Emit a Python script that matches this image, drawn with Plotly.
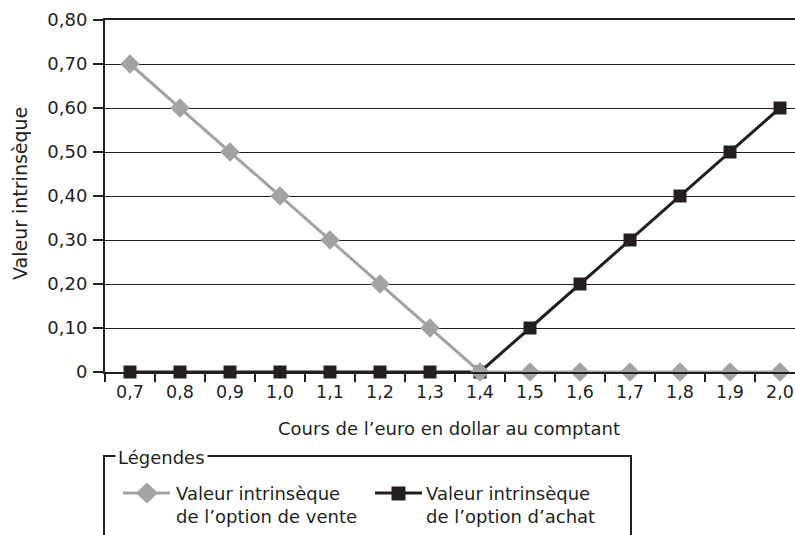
import plotly.graph_objects as go

cours = ["0,7", "0,8", "0,9", "1,0", "1,1", "1,2", "1,3", "1,4", "1,5", "1,6", "1,7", "1,8", "1,9", "2,0"]
valeur_vente = [0.70, 0.60, 0.50, 0.40, 0.30, 0.20, 0.10, 0, 0, 0, 0, 0, 0, 0]
valeur_achat = [0, 0, 0, 0, 0, 0, 0, 0, 0.10, 0.20, 0.30, 0.40, 0.50, 0.60]
y_ticks = [0, 0.1, 0.2, 0.3, 0.4, 0.5, 0.6, 0.7, 0.8]
y_labels = ["0", "0,10", "0,20", "0,30", "0,40", "0,50", "0,60", "0,70", "0,80"]
nom_vente = "Valeur intrinsèque<br>de l’option de vente"
nom_achat = "Valeur intrinsèque<br>de l’option d’achat"

GRAY = "#a3a3a3"
BLACK = "#231f20"
FONT = "DejaVu Sans"
FS = 18

W, H = 795, 535
L, R, T, B = 105, 0, 20, 163
PW, PH = W - L - R, H - T - B


def px(x):
    return (x - L) / PW


def py(y):
    return (H - B - y) / PH


fig = go.Figure()
fig.add_trace(go.Scatter(
    x=cours, y=valeur_achat, name=nom_achat, mode="lines+markers",
    line=dict(color=BLACK, width=3),
    marker=dict(symbol="square", size=13, color=BLACK),
    cliponaxis=False,
))
fig.add_trace(go.Scatter(
    x=cours, y=valeur_vente, name=nom_vente, mode="lines+markers",
    line=dict(color=GRAY, width=3),
    marker=dict(symbol="diamond", size=15, color=GRAY),
    cliponaxis=False,
))

shapes = []
# legend frame (open at the bottom)
shapes.append(dict(type="path", xref="paper", yref="paper",
                   path=f"M {px(104)},{py(545)} L {px(104)},{py(456)} L {px(631)},{py(456)} L {px(631)},{py(545)}",
                   line=dict(color=BLACK, width=2)))
# legend glyphs
shapes.append(dict(type="line", xref="paper", yref="paper",
                   x0=px(123), x1=px(170), y0=py(493), y1=py(493),
                   line=dict(color=GRAY, width=3)))
shapes.append(dict(type="path", xref="paper", yref="paper",
                   path=f"M {px(147)},{py(482.5)} L {px(158)},{py(493)} L {px(147)},{py(503.5)} L {px(136)},{py(493)} Z",
                   fillcolor=GRAY, line=dict(width=0)))
shapes.append(dict(type="line", xref="paper", yref="paper",
                   x0=px(375), x1=px(422), y0=py(493), y1=py(493),
                   line=dict(color=BLACK, width=3)))
shapes.append(dict(type="rect", xref="paper", yref="paper",
                   x0=px(391.5), x1=px(405.5), y0=py(486.5), y1=py(500.5),
                   fillcolor=BLACK, line=dict(width=0)))

annotations = [
    dict(text="Cours de l’euro en dollar au comptant", xref="paper", yref="paper",
         x=px(449), y=py(428), showarrow=False, xanchor="center", yanchor="middle",
         font=dict(family=FONT, size=FS, color=BLACK)),
    dict(text="Valeur intrinsèque", xref="paper", yref="paper",
         x=px(20), y=py(194), showarrow=False, textangle=-90,
         xanchor="center", yanchor="middle",
         font=dict(family=FONT, size=19, color=BLACK)),
    dict(text="Légendes", xref="paper", yref="paper",
         x=px(115), y=py(457), showarrow=False, xanchor="left", yanchor="middle",
         bgcolor="white", borderpad=2,
         font=dict(family=FONT, size=FS, color=BLACK)),
    dict(text=nom_vente, xref="paper", yref="paper",
         x=px(174), y=py(505), showarrow=False, xanchor="left", yanchor="middle",
         align="left", font=dict(family=FONT, size=FS, color=BLACK)),
    dict(text=nom_achat, xref="paper", yref="paper",
         x=px(424), y=py(505), showarrow=False, xanchor="left", yanchor="middle",
         align="left", font=dict(family=FONT, size=FS, color=BLACK)),
]

fig.update_layout(
    width=W, height=H,
    margin=dict(l=L, r=R, t=T, b=B, pad=0),
    paper_bgcolor="white", plot_bgcolor="white",
    showlegend=False,
    shapes=shapes, annotations=annotations,
    font=dict(family=FONT, size=FS, color=BLACK),
    xaxis=dict(
        type="category", categoryorder="array", categoryarray=cours,
        range=[-0.5, 13.3], tickson="boundaries",
        ticks="outside", ticklen=8, tickwidth=1.5, tickcolor=BLACK,
        ticklabelstandoff=3,
        showgrid=False, showline=True, linewidth=2, linecolor=BLACK,
        mirror=True, zeroline=False,
        tickfont=dict(family=FONT, size=17.5, color=BLACK),
    ),
    yaxis=dict(
        range=[0, 0.8], tickvals=y_ticks, ticktext=y_labels,
        ticks="outside", ticklen=10, tickwidth=1.5, tickcolor=BLACK,
        ticklabelstandoff=2,
        showgrid=True, gridcolor=BLACK, gridwidth=1,
        showline=True, linewidth=2, linecolor=BLACK, zeroline=False,
        tickfont=dict(family=FONT, size=FS, color=BLACK),
    ),
)

fig.write_html(
    "out.html",
    config={"displayModeBar": False},
    post_script="document.body.style.margin='0';document.body.style.overflow='hidden';",
)
